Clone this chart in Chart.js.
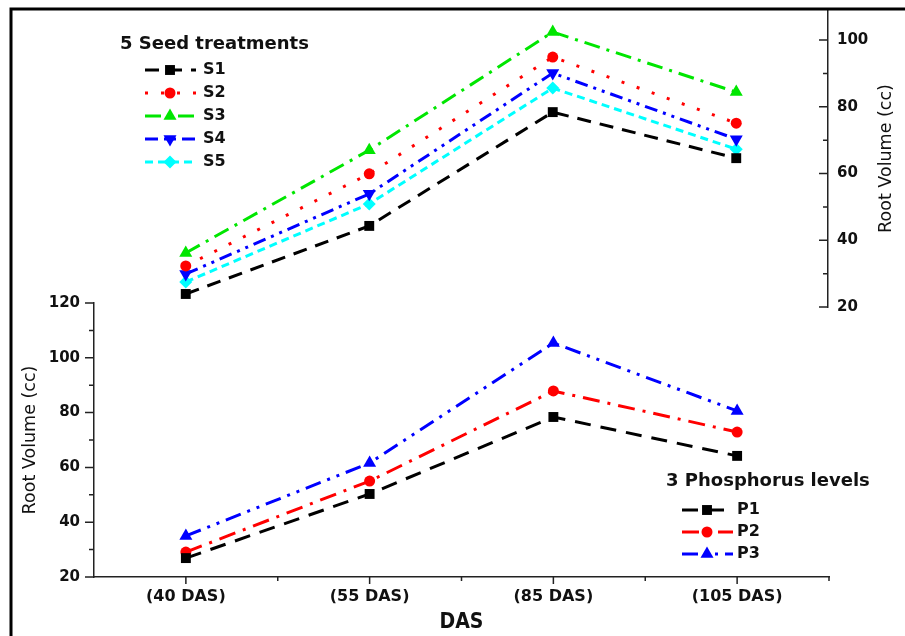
<!DOCTYPE html>
<html lang="en">
<head>
<meta charset="UTF-8" />
<title>Root Volume by DAS</title>
<script src="https://cdn.jsdelivr.net/npm/chart.js"></script>
<style>
  body { margin: 0; background: #fff; }
  .wrap { position: relative; width: 905px; height: 636px; }
  .layer { position: absolute; left: 0; top: 0; width: 905px; height: 636px; }
</style>
</head>
<body>
<div class="wrap">
  <div class="layer"><canvas id="bottom"></canvas></div>
  <div class="layer"><canvas id="top"></canvas></div>
</div>
<script>
const stages = ['(40 DAS)', '(55 DAS)', '(85 DAS)', '(105 DAS)'];

// 5 seed treatments (upper panel, right axis)
const s1 = [23.9, 44.3, 78.4, 64.6];
const s2 = [32.3, 59.9, 94.9, 75.1];
const s3 = [36.2, 67.0, 102.4, 84.4];
const s4 = [29.9, 53.9, 90.1, 70.3];
const s5 = [27.5, 50.9, 85.6, 67.3];

// 3 phosphorus levels (lower panel, left axis)
const p1 = [26.9, 50.3, 78.4, 64.2];
const p2 = [29.1, 55.0, 87.9, 72.9];
const p3 = [35.0, 61.6, 105.4, 80.6];

const leftTicks = [20, 40, 60, 80, 100, 120];
const rightTicks = [20, 40, 60, 80, 100];

Chart.defaults.font.family = '"DejaVu Sans", sans-serif';
Chart.defaults.color = '#111';

const axisCol = '#222';
const tickFont = { size: 15, weight: 'bold' };

function marker(ctx, style, rot, r, x, y) {
  ctx.save();
  ctx.translate(x, y);
  ctx.rotate(rot * Math.PI / 180);
  ctx.beginPath();
  if (style === 'rect') {
    const s = r * Math.SQRT1_2;
    ctx.rect(-s, -s, 2 * s, 2 * s);
  } else if (style === 'circle') {
    ctx.arc(0, 0, r, 0, Math.PI * 2);
  } else if (style === 'triangle') {
    ctx.moveTo(0, -r);
    ctx.lineTo(r * 0.866, r * 0.5);
    ctx.lineTo(-r * 0.866, r * 0.5);
    ctx.closePath();
  } else {
    ctx.moveTo(0, -r); ctx.lineTo(r, 0); ctx.lineTo(0, r); ctx.lineTo(-r, 0);
    ctx.closePath();
  }
  ctx.fill();
  ctx.restore();
}

// legend box drawn inside the plot, using each dataset's own style
const boxLegend = {
  id: 'boxLegend',
  afterDraw(chart, args, o) {
    const ctx = chart.ctx;
    ctx.save();
    ctx.textBaseline = 'middle';
    ctx.fillStyle = '#111';
    ctx.font = 'bold 18px "DejaVu Sans"';
    ctx.fillText(o.title, o.titleX, o.titleY);
    chart.data.datasets.forEach((ds, i) => {
      const y = o.rowY + i * o.rowGap;
      ctx.strokeStyle = ds.borderColor;
      ctx.lineWidth = ds.borderWidth;
      ctx.setLineDash(ds.borderDash || []);
      ctx.beginPath();
      ctx.moveTo(o.lineX1, y);
      ctx.lineTo(o.lineX2, y);
      ctx.stroke();
      ctx.setLineDash([]);
      ctx.fillStyle = ds.borderColor;
      marker(ctx, ds.pointStyle, ds.pointRotation || 0, ds.pointRadius, o.markX, y);
      ctx.fillStyle = '#111';
      ctx.font = 'bold 16px "DejaVu Sans"';
      ctx.fillText(ds.label, o.labelX, y);
    });
    ctx.restore();
  }
};

// major + minor tick marks, all pointing left on y axes and down on x
const axisTicks = {
  id: 'axisTicks',
  afterDraw(chart, args, o) {
    const ctx = chart.ctx;
    ctx.save();
    ctx.strokeStyle = axisCol;
    ctx.lineWidth = 1.5;
    ctx.beginPath();
    const ys = chart.scales.y;
    const ax = o.side === 'left' ? ys.right : ys.left;
    for (let v = o.from; v <= o.to; v += 10) {
      const py = ys.getPixelForValue(v);
      const len = v % 20 === 0 ? 9 : 5;
      ctx.moveTo(ax - len, py);
      ctx.lineTo(ax, py);
    }
    if (o.xTicks) {
      const xs = chart.scales.x;
      const n = stages.length;
      for (let i = 0; i < n; i++) {
        const px = xs.getPixelForValue(i);
        ctx.moveTo(px, xs.top);
        ctx.lineTo(px, xs.top + 7);
        const bx = xs.left + (i + 1) * xs.width / n;
        ctx.moveTo(bx, xs.top);
        ctx.lineTo(bx, xs.top + 4);
      }
    }
    ctx.stroke();
    if (o.frame) {
      ctx.strokeStyle = '#000';
      ctx.lineWidth = 3;
      ctx.beginPath();
      ctx.moveTo(11, 640);
      ctx.lineTo(11, 9);
      ctx.lineTo(910, 9);
      ctx.stroke();
    }
    if (o.sideTitle) {
      ctx.fillStyle = '#111';
      ctx.font = '17.5px "DejaVu Sans"';
      ctx.textAlign = 'center';
      ctx.textBaseline = 'middle';
      ctx.translate(o.sideTitle.x, (ys.top + ys.bottom) / 2);
      ctx.rotate(-Math.PI / 2);
      ctx.fillText(o.sideTitle.text, 0, 0);
    }
    ctx.restore();
  }
};

function line(label, data, color, dash, style, radius, rot) {
  return {
    label, data,
    borderColor: color, backgroundColor: color,
    borderWidth: 3, borderDash: dash,
    pointStyle: style, pointRadius: radius, pointRotation: rot || 0,
    pointBackgroundColor: color, pointBorderColor: color, pointBorderWidth: 0,
    tension: 0, fill: false
  };
}

new Chart(document.getElementById('bottom'), {
  type: 'line',
  data: {
    labels: stages,
    datasets: [
      line('P1', p1, '#000000', [16, 10], 'rect', 7),
      line('P2', p2, '#ff0000', [17, 8, 3, 8], 'circle', 5.5),
      line('P3', p3, '#0000ff', [16, 7, 3, 7, 3, 7], 'triangle', 7.5)
    ]
  },
  options: {
    responsive: true,
    maintainAspectRatio: false,
    animation: false,
    events: [],
    layout: { padding: { left: 0, top: 303, right: 76, bottom: 0 } },
    scales: {
      x: {
        type: 'category',
        offset: true,
        afterFit: s => { s.height = 59; },
        grid: { display: false, drawTicks: false },
        border: { display: true, color: axisCol, width: 1.5 },
        ticks: { padding: 10, font: { size: 16, weight: 'bold' }, color: '#111', maxRotation: 0 },
        title: {
          display: true, text: 'DAS', color: '#111',
          font: { family: '"DejaVu Sans Condensed", "DejaVu Sans"', size: 21, weight: 'bold' },
          padding: { top: 0, bottom: 1 }
        }
      },
      y: {
        position: 'left',
        min: 20, max: 120,
        afterFit: s => { s.width = 94; s.paddingTop = 0; },
        afterBuildTicks: s => { s.ticks = leftTicks.map(v => ({ value: v })); },
        grid: { display: false, drawTicks: false },
        border: { display: true, color: axisCol, width: 1.5 },
        ticks: { padding: 14, font: tickFont, color: '#111' },
        title: {
          display: true, text: 'Root Volume (cc)', color: '#111',
          font: { size: 17.5 },
          padding: { top: 20, bottom: 0 }
        }
      }
    },
    plugins: {
      legend: { display: false },
      tooltip: { enabled: false },
      axisTicks: { side: 'left', from: 20, to: 120, xTicks: true },
      boxLegend: {
        title: '3 Phosphorus levels', titleX: 666, titleY: 481,
        rowY: 510, rowGap: 22, lineX1: 682, lineX2: 733, markX: 707, labelX: 737
      }
    }
  },
  plugins: [axisTicks, boxLegend]
});

new Chart(document.getElementById('top'), {
  type: 'line',
  data: {
    labels: stages,
    datasets: [
      line('S1', s1, '#000000', [14, 9], 'rect', 7),
      line('S2', s2, '#ff0000', [3, 13], 'circle', 5.5),
      line('S3', s3, '#00e600', [16, 7, 3, 7], 'triangle', 7.5),
      line('S4', s4, '#0000ff', [13, 6, 3, 6, 3, 6], 'triangle', 7.5, 180),
      line('S5', s5, '#00ffff', [8, 5], 'rectRot', 6.5)
    ]
  },
  options: {
    responsive: true,
    maintainAspectRatio: false,
    animation: false,
    events: [],
    layout: { padding: { left: 94, top: 10, right: 0, bottom: 329 } },
    scales: {
      x: { type: 'category', display: false, offset: true },
      y: {
        position: 'right',
        min: 20, max: 109,
        afterFit: s => { s.width = 77; s.paddingTop = 0; },
        afterBuildTicks: s => { s.ticks = rightTicks.map(v => ({ value: v })); },
        grid: { display: false, drawTicks: false },
        border: { display: true, color: axisCol, width: 1.5 },
        ticks: { padding: 9, font: tickFont, color: '#111' }
      }
    },
    plugins: {
      legend: { display: false },
      tooltip: { enabled: false },
      axisTicks: { side: 'right', from: 20, to: 100, frame: true,
        sideTitle: { x: 886, text: 'Root Volume (cc)' } },
      boxLegend: {
        title: '5 Seed treatments', titleX: 120, titleY: 44,
        rowY: 70, rowGap: 23, lineX1: 145, lineX2: 196, markX: 170, labelX: 203
      }
    }
  },
  plugins: [axisTicks, boxLegend]
});
</script>
</body>
</html>
